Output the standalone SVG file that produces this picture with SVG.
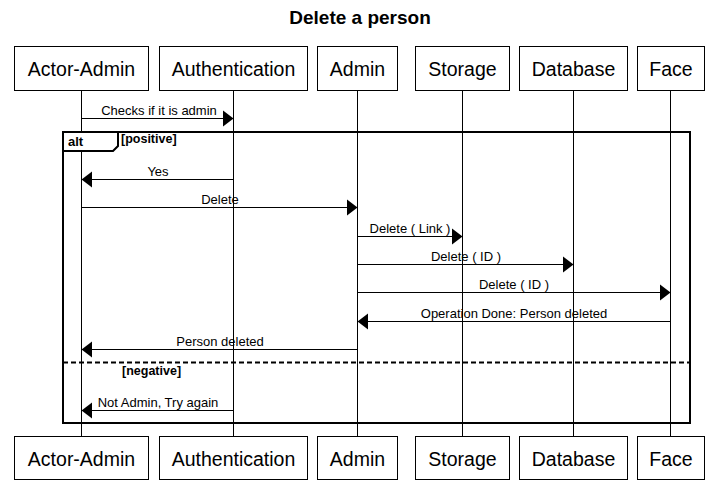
<svg xmlns="http://www.w3.org/2000/svg" width="719" height="483" viewBox="0 0 719 483">
<style>
text{font-family:"Liberation Sans",Arial,sans-serif;fill:#000}
.title{font-size:19px;font-weight:bold;text-anchor:middle}
.pbox{fill:#fff;stroke:#000;stroke-width:1}
.pname{font-size:19.5px;text-anchor:middle}
.life{stroke:#000;stroke-width:1}
.msg{stroke:#000;stroke-width:1}
.head{fill:#000}
.mlabel{font-size:13px;text-anchor:middle}
.frame{fill:none;stroke:#000;stroke-width:2}
.tab{fill:#fff;stroke:#000;stroke-width:2}
.kw{font-size:13px;font-weight:bold}
.guard{font-size:12.5px;font-weight:bold}
</style>
<rect width="719" height="483" fill="#fff"/>
<text class="title" x="360" y="24">Delete a person</text>

<g id="lifelines">
<line class="life" x1="81.5" y1="90" x2="81.5" y2="436"/>
<line class="life" x1="233.5" y1="90" x2="233.5" y2="436"/>
<line class="life" x1="357.5" y1="90" x2="357.5" y2="436"/>
<line class="life" x1="462.5" y1="90" x2="462.5" y2="436"/>
<line class="life" x1="573.5" y1="90" x2="573.5" y2="436"/>
<line class="life" x1="670.5" y1="90" x2="670.5" y2="436"/>
</g>

<g id="alt-frame">
<rect class="frame" x="63" y="132" width="627" height="291"/>
<polygon class="tab" points="63,132 118,132 118,146 113,151 63,151"/>
<text class="kw" x="68" y="146">alt</text>
<text class="guard" x="121" y="143">[positive]</text>
<line x1="63" y1="362.5" x2="690" y2="362.5" stroke="#000" stroke-width="2" stroke-dasharray="5,3"/>
<text class="guard" x="122" y="375">[negative]</text>
</g>

<g id="node-actor-admin">
<rect class="pbox" x="14.5" y="46.5" width="134" height="44"/>
<text class="pname" x="81.5" y="76">Actor-Admin</text>
<rect class="pbox" x="14.5" y="436.5" width="134" height="43"/>
<text class="pname" x="81.5" y="466">Actor-Admin</text>
</g>
<g id="node-authentication">
<rect class="pbox" x="159.5" y="46.5" width="148" height="44"/>
<text class="pname" x="233.5" y="76">Authentication</text>
<rect class="pbox" x="159.5" y="436.5" width="148" height="43"/>
<text class="pname" x="233.5" y="466">Authentication</text>
</g>
<g id="node-admin">
<rect class="pbox" x="317.5" y="46.5" width="80" height="44"/>
<text class="pname" x="357.5" y="76">Admin</text>
<rect class="pbox" x="317.5" y="436.5" width="80" height="43"/>
<text class="pname" x="357.5" y="466">Admin</text>
</g>
<g id="node-storage">
<rect class="pbox" x="415.5" y="46.5" width="94" height="44"/>
<text class="pname" x="462.5" y="76">Storage</text>
<rect class="pbox" x="415.5" y="436.5" width="94" height="43"/>
<text class="pname" x="462.5" y="466">Storage</text>
</g>
<g id="node-database">
<rect class="pbox" x="519.5" y="46.5" width="108" height="44"/>
<text class="pname" x="573.5" y="76">Database</text>
<rect class="pbox" x="519.5" y="436.5" width="108" height="43"/>
<text class="pname" x="573.5" y="466">Database</text>
</g>
<g id="node-face">
<rect class="pbox" x="637.5" y="46.5" width="67" height="44"/>
<text class="pname" x="671" y="76">Face</text>
<rect class="pbox" x="637.5" y="436.5" width="67" height="43"/>
<text class="pname" x="671" y="466">Face</text>
</g>

<g id="connectors">
<line class="msg" x1="81.5" y1="118.5" x2="224" y2="118.5"/>
<polygon class="head" points="223,110.5 233.5,118.5 223,126.5"/>
<text class="mlabel" x="159" y="115">Checks if it is admin</text>

<line class="msg" x1="233.5" y1="179.5" x2="91" y2="179.5"/>
<polygon class="head" points="92,171.5 81.5,179.5 92,187.5"/>
<text class="mlabel" x="158" y="176">Yes</text>

<line class="msg" x1="81.5" y1="207.5" x2="348" y2="207.5"/>
<polygon class="head" points="347,199.5 357.5,207.5 347,215.5"/>
<text class="mlabel" x="220" y="204">Delete</text>

<line class="msg" x1="357.5" y1="236.5" x2="453" y2="236.5"/>
<polygon class="head" points="452,228.5 462.5,236.5 452,244.5"/>
<text class="mlabel" x="410" y="233">Delete ( Link )</text>

<line class="msg" x1="357.5" y1="264.5" x2="564" y2="264.5"/>
<polygon class="head" points="563,256.5 573.5,264.5 563,272.5"/>
<text class="mlabel" x="466" y="261">Delete ( ID )</text>

<line class="msg" x1="357.5" y1="292.5" x2="661" y2="292.5"/>
<polygon class="head" points="660,284.5 670.5,292.5 660,300.5"/>
<text class="mlabel" x="514" y="289">Delete ( ID )</text>

<line class="msg" x1="670.5" y1="321.5" x2="367" y2="321.5"/>
<polygon class="head" points="368,313.5 357.5,321.5 368,329.5"/>
<text class="mlabel" x="514" y="318">Operation Done: Person deleted</text>

<line class="msg" x1="357.5" y1="349.5" x2="91" y2="349.5"/>
<polygon class="head" points="92,341.5 81.5,349.5 92,357.5"/>
<text class="mlabel" x="220" y="346">Person deleted</text>

<line class="msg" x1="233.5" y1="410.5" x2="91" y2="410.5"/>
<polygon class="head" points="92,402.5 81.5,410.5 92,418.5"/>
<text class="mlabel" x="158" y="407">Not Admin, Try again</text>
</g>
</svg>
